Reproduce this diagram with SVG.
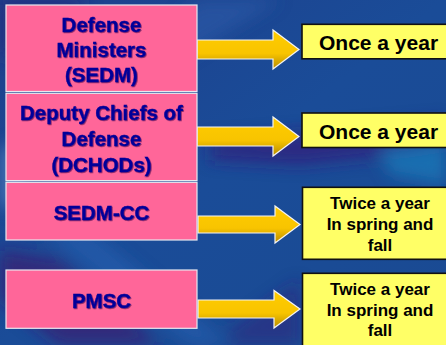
<svg xmlns="http://www.w3.org/2000/svg" width="446" height="345" viewBox="0 0 446 345">
<style>
.pink{fill:#FF6699;stroke:#E8E8F0;stroke-width:1.2}
.yel{fill:#FFFF66;stroke:#111111;stroke-width:1.6}
.arr{fill:url(#gold);stroke:#F4F4F4;stroke-width:1.2;stroke-linejoin:miter}
.pt{font-family:"Liberation Sans",Arial,sans-serif;font-weight:bold;font-size:20.5px;fill:#000099;stroke:#000099;stroke-width:0.4;text-anchor:middle;filter:url(#sh)}
.yt{font-family:"Liberation Sans",Arial,sans-serif;font-weight:bold;fill:#000000}
.y1{font-size:21px}
.y2{font-size:17px;text-anchor:middle}
</style>
<defs>
<linearGradient id="bg" x1="0" y1="0" x2="1" y2="1">
<stop offset="0" stop-color="#1E3F8C"/>
<stop offset="0.5" stop-color="#1A4C98"/>
<stop offset="1" stop-color="#1A4A92"/>
</linearGradient>
<linearGradient id="gold" x1="0" y1="0" x2="0" y2="1">
<stop offset="0" stop-color="#FFCC00"/>
<stop offset="0.6" stop-color="#F8C400"/>
<stop offset="1" stop-color="#B88C00"/>
</linearGradient>
<filter id="blur" x="-20%" y="-20%" width="140%" height="140%"><feGaussianBlur stdDeviation="8"/></filter>
<filter id="sh" x="-5%" y="-5%" width="110%" height="120%"><feDropShadow dx="0.8" dy="0.8" stdDeviation="0.3" flood-color="#330044" flood-opacity="0.7"/></filter>
</defs>
<g id="background">
<rect width="446" height="345" fill="url(#bg)"/>
<g filter="url(#blur)">
<polygon points="0,0 90,0 40,40 0,60" fill="#2A2A7A" opacity="0.7"/>
<polygon points="200,0 280,0 180,60 150,40" fill="#2D5AA8" opacity="0.6"/>
<polygon points="210,140 446,120 446,150 300,165 210,160" fill="#35207A" opacity="0.7"/>
<polygon points="380,150 446,140 446,185 390,175" fill="#1878B8" opacity="0.8"/>
<polygon points="0,250 60,260 160,345 60,345 0,300" fill="#3A2070" opacity="0.7"/>
<polygon points="40,230 90,230 230,345 190,345" fill="#2860B0" opacity="0.6"/>
<polygon points="230,330 300,280 300,345 230,345" fill="#30207A" opacity="0.5"/>
<polygon points="0,150 20,140 25,200 0,210" fill="#6090C8" opacity="0.6"/>
</g>
</g>
<g id="connectors">
<path class="arr" d="M197,40 H273 V30 L299,49.5 L273,69 V59 H197 Z"/>
<path class="arr" d="M197,127 H273 V117 L299,136.5 L273,156 V146 H197 Z"/>
<path class="arr" d="M198,216 H275 V206 L300,224.5 L275,243 V233 H198 Z"/>
<path class="arr" d="M198,300 H274 V290.5 L300,309 L274,328 V318 H198 Z"/>
</g>
<g id="node-sedm">
<rect class="pink" x="6" y="5" width="191" height="86.5"/>
<text class="pt" x="101.5" y="32">Defense</text>
<text class="pt" x="101.5" y="57">Ministers</text>
<text class="pt" x="101.5" y="82">(SEDM)</text>
</g>
<g id="node-dchod">
<rect class="pink" x="6" y="93.3" width="191" height="87.3"/>
<text class="pt" x="101.5" y="120">Deputy Chiefs of</text>
<text class="pt" x="101.5" y="146">Defense</text>
<text class="pt" x="101.5" y="172">(DCHODs)</text>
</g>
<g id="node-sedmcc">
<rect class="pink" x="6" y="182.3" width="191" height="57.7"/>
<text class="pt" x="101.5" y="220">SEDM-CC</text>
</g>
<g id="node-pmsc">
<rect class="pink" x="6" y="270" width="191" height="58.3"/>
<text class="pt" x="101.5" y="308">PMSC</text>
</g>
<g id="node-once1">
<rect class="yel" x="302" y="24.3" width="160" height="34.5"/>
<text class="yt y1" x="319" y="50">Once a year</text>
</g>
<g id="node-once2">
<rect class="yel" x="302" y="113" width="160" height="34.5"/>
<text class="yt y1" x="319" y="138.5">Once a year</text>
</g>
<g id="node-twice1">
<rect class="yel" x="302.5" y="187.3" width="160" height="72"/>
<text class="yt y2" x="380" y="209">Twice a year</text>
<text class="yt y2" x="380" y="230">In spring and</text>
<text class="yt y2" x="380" y="251">fall</text>
</g>
<g id="node-twice2">
<rect class="yel" x="302.5" y="273.3" width="160" height="80"/>
<text class="yt y2" x="380" y="295">Twice a year</text>
<text class="yt y2" x="380" y="316">In spring and</text>
<text class="yt y2" x="380" y="336">fall</text>
</g>
</svg>
